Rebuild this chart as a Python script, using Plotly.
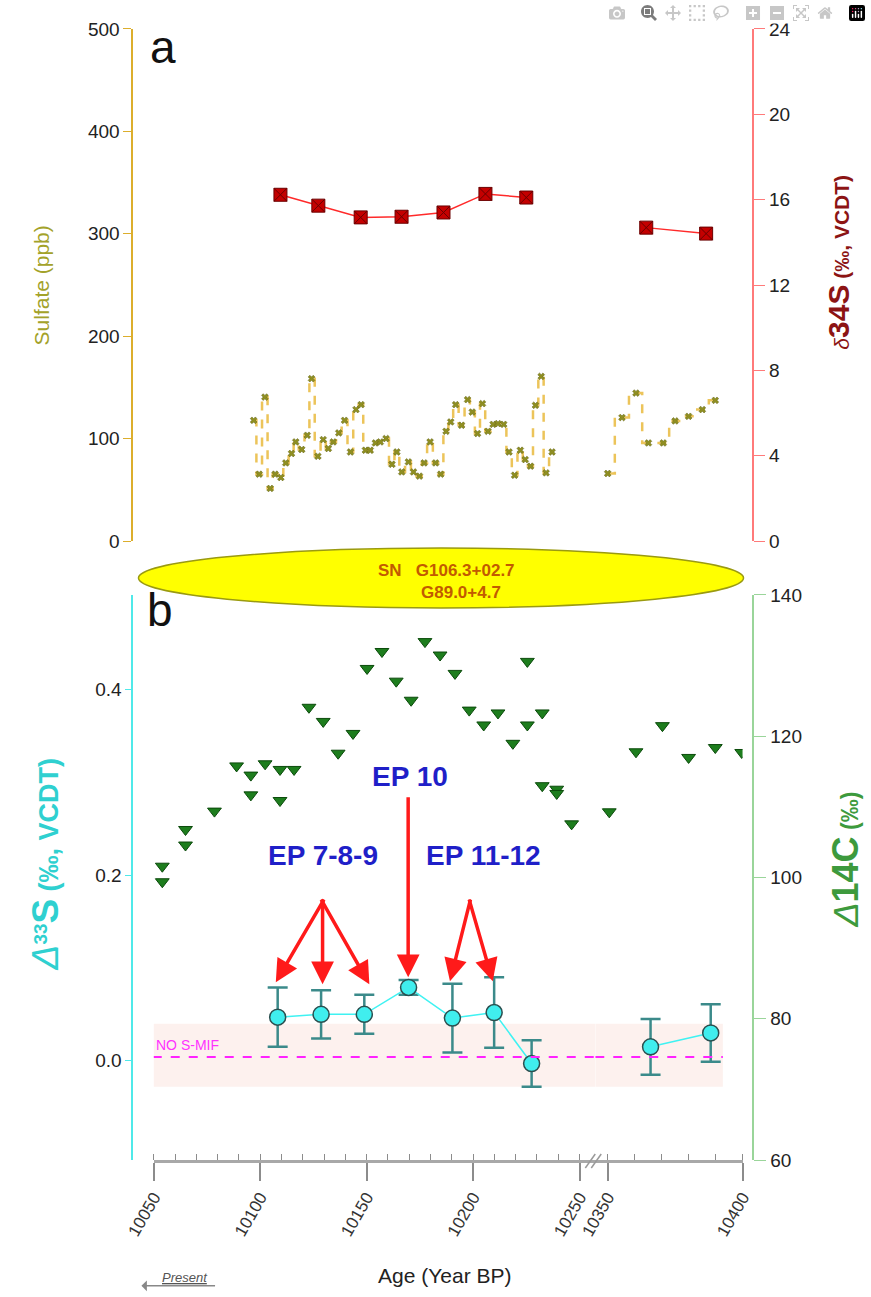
import plotly.graph_objects as go

W, H = 871, 1297
# The rendered picture is inset/scaled relative to figure pixels; positions below are
# given in picture pixels (as measured on the reference) and converted to figure pixels.
SX, OX = 0.9587, 27.0
SY, OY = 0.9855, 9.0
def cx(R): return (R - OX) / SX
def cy(R): return (R - OY) / SY
def px(R): return cx(R) / W
def py(R): return 1 - cy(R) / H

# ---------------- data ----------------
sulfate_age_1 = [10096.9, 10099.5, 10102.2, 10104.7, 10107.0, 10109.7, 10112.0, 10114.7, 10116.7, 10119.5,
                 10122.1, 10124.1, 10127.1, 10129.6, 10132.0, 10134.3, 10136.9, 10139.6, 10142.4, 10145.0,
                 10147.4, 10149.4, 10151.7, 10154.1, 10156.4, 10159.1, 10161.9, 10164.2, 10166.5, 10169.6,
                 10172.0, 10174.8, 10177.0, 10179.8, 10182.4, 10184.8, 10187.3, 10189.5, 10191.8, 10194.6,
                 10197.4, 10199.6, 10202.1, 10204.4, 10207.0, 10209.4, 10211.7, 10214.4, 10216.9, 10219.5,
                 10222.2, 10224.5, 10227.0, 10229.3, 10232.0, 10234.3, 10237.1]
sulfate_ppb_1 = [117.9, 65.3, 140.6, 51.4, 65.3, 62.1, 76.3, 85.5, 96.8, 89.4,
                 103.3, 158.6, 82.8, 99.1, 90.4, 96.8, 105.6, 117.9, 87.0, 128.4,
                 133.2, 88.7, 88.7, 95.8, 96.8, 100.1, 75.0, 87.0, 67.5, 77.3,
                 67.5, 63.4, 76.3, 96.8, 76.3, 65.3, 107.2, 116.3, 133.2, 113.1,
                 138.1, 126.0, 105.0, 134.2, 107.2, 114.0, 114.7, 114.0, 87.0, 64.3,
                 88.7, 79.6, 73.1, 132.6, 160.8, 66.6, 87.0]
sulfate_age_2 = [10350.0, 10355.3, 10360.5, 10365.1, 10370.6, 10375.0, 10380.0, 10385.1, 10389.9]
sulfate_ppb_2 = [66.0, 120.6, 144.5, 95.8, 95.8, 117.3, 121.8, 128.4, 137.4]

d34s_age_1 = [10109.5, 10127.3, 10147.2, 10166.4, 10186.1, 10205.8, 10225.0]
d34s_val_1 = [16.23, 15.72, 15.17, 15.20, 15.40, 16.27, 16.10]
d34s_age_2 = [10364.3, 10386.5]
d34s_val_2 = [14.69, 14.41]

d33s_age_1 = [10108.2, 10128.6, 10148.9, 10169.7, 10190.3, 10209.9, 10227.5]
d33s_val_1 = [0.047, 0.050, 0.050, 0.079, 0.046, 0.052, -0.003]
d33s_err_1 = [0.032, 0.026, 0.021, 0.008, 0.037, 0.038, 0.025]
d33s_age_2 = [10365.9, 10388.2]
d33s_val_2 = [0.015, 0.030]
d33s_err_2 = [0.030, 0.031]

d14c_age_1 = [10054.0, 10054.0, 10064.9, 10064.9, 10078.5, 10088.9, 10095.6, 10095.6, 10102.3, 10109.3,
              10109.3, 10115.9, 10122.9, 10129.6, 10136.6, 10143.6, 10150.2, 10157.2, 10163.9, 10170.9,
              10177.4, 10184.5, 10191.5, 10198.2, 10205.0, 10211.7, 10218.7, 10225.5, 10225.5, 10232.5,
              10232.5, 10239.3, 10239.3, 10246.3]
d14c_val_1 = [101.6, 99.4, 106.8, 104.6, 109.4, 115.8, 114.5, 111.7, 116.1, 115.3,
              110.9, 115.3, 124.1, 122.1, 117.6, 120.4, 129.6, 132.0, 127.8, 125.1,
              133.4, 131.5, 128.9, 123.7, 121.6, 123.3, 119.0, 130.6, 121.6, 123.3,
              113.0, 112.5, 111.9, 107.6]
d14c_age_2 = [10350.6, 10360.5, 10370.3, 10380.0, 10389.9, 10399.7]
d14c_val_2 = [109.3, 117.8, 121.5, 117.0, 118.4, 117.7]

seg1_ticks = [10050, 10100, 10150, 10200, 10250]
seg2_ticks = [10350, 10400]
seg1_range = [10050, 10257.4]
seg2_range = [10345.4, 10400]
no_smif_level = 0.004
no_smif_band = [-0.028, 0.040]
band_x_end = 10392.7

# ---------------- figure ----------------
fig = go.Figure()

GOLD_LINE = "#ecc45a"
SULF_MARK = "#8f8f22"

for ages, vals, xa in [(sulfate_age_1, sulfate_ppb_1, "x"), (sulfate_age_2, sulfate_ppb_2, "x2")]:
    fig.add_trace(go.Scatter(x=ages, y=vals, xaxis=xa, yaxis="y3", mode="lines+markers",
                             line=dict(color=GOLD_LINE, width=2.5, dash="dash", shape="hvh"),
                             marker=dict(symbol="x", size=6, color=SULF_MARK,
                                         line=dict(color="#5e5e10", width=0.5)),
                             showlegend=False))

for ages, vals, xa in [(d34s_age_1, d34s_val_1, "x"), (d34s_age_2, d34s_val_2, "x2")]:
    fig.add_trace(go.Scatter(x=ages, y=vals, xaxis=xa, yaxis="y4", mode="lines+markers",
                             line=dict(color="#ff2a2a", width=1.5),
                             marker=dict(symbol="square-x", size=13, color="#c40000",
                                         line=dict(color="#6a0000", width=1)),
                             showlegend=False))

fig.add_shape(type="rect", xref="x", yref="y", x0=10049.5, x1=seg1_range[1],
              y0=no_smif_band[0], y1=no_smif_band[1], fillcolor="#fdf1ee", line=dict(width=0), layer="below")
fig.add_shape(type="rect", xref="x2", yref="y", x0=seg2_range[0], x1=band_x_end,
              y0=no_smif_band[0], y1=no_smif_band[1], fillcolor="#fdf1ee", line=dict(width=0), layer="below")
fig.add_shape(type="line", xref="x", yref="y", x0=10049.5, x1=seg1_range[1],
              y0=no_smif_level, y1=no_smif_level, line=dict(color="#ff22ff", width=2, dash="dash"))
fig.add_shape(type="line", xref="x2", yref="y", x0=seg2_range[0], x1=band_x_end,
              y0=no_smif_level, y1=no_smif_level, line=dict(color="#ff22ff", width=2, dash="dash"))

for ages, vals, xa in [(d14c_age_1, d14c_val_1, "x"), (d14c_age_2, d14c_val_2, "x2")]:
    fig.add_trace(go.Scatter(x=ages, y=vals, xaxis=xa, yaxis="y2", mode="markers",
                             marker=dict(symbol="triangle-down", size=12, color="#1d7d1d",
                                         line=dict(color="#0b4a0b", width=1)),
                             showlegend=False))

for ages, vals, errs, xa in [(d33s_age_1, d33s_val_1, d33s_err_1, "x"),
                             (d33s_age_2, d33s_val_2, d33s_err_2, "x2")]:
    fig.add_trace(go.Scatter(x=ages, y=vals, xaxis=xa, yaxis="y", mode="lines+markers",
                             line=dict(color="#3ff2f2", width=1.5),
                             error_y=dict(type="data", array=errs, color="#3b8a8a", thickness=2.5, width=10),
                             marker=dict(symbol="circle", size=16, color="#40eeee",
                                         line=dict(color="#2b4f4f", width=1.5)),
                             showlegend=False))

FAM = "Liberation Sans, Arial"
TICKFONT = dict(family=FAM, size=19, color="#222222")
XTICKFONT = dict(family=FAM, size=17, color="#333333")

xcommon = dict(showline=True, linecolor="#a8a8a8", linewidth=2.5, ticks="outside", ticklen=18,
               tickwidth=1.5, tickcolor="#8c8c8c", tickangle=-60, tickfont=XTICKFONT,
               showgrid=False, zeroline=False, anchor="y", tickmode="array",
               minor=dict(ticks="inside", ticklen=6, tickwidth=1.2, tickcolor="#8c8c8c",
                          tickmode="linear", tick0=10050, dtick=10, showgrid=False))

domain_b = [py(1161), py(595)]
domain_a = [py(541), py(28)]
LEFT_AX = px(131)
RIGHT_AX = px(755)

fig.update_layout(
    width=W, height=H, margin=dict(l=0, r=0, t=0, b=0),
    paper_bgcolor="white", plot_bgcolor="rgba(0,0,0,0)",
    showlegend=False,
    xaxis=dict(domain=[px(152.4), px(596)], range=seg1_range, tickvals=seg1_ticks,
               ticktext=[str(v) for v in seg1_ticks], **xcommon),
    xaxis2=dict(domain=[px(596), px(744)], range=seg2_range, tickvals=seg2_ticks,
                ticktext=[str(v) for v in seg2_ticks], **xcommon),
    yaxis=dict(domain=domain_b, range=[-0.107, 0.502], anchor="free", position=LEFT_AX,
               showline=True, linecolor="#4fe9e9", linewidth=2, ticks="outside", ticklen=6,
               tickcolor="#4fe9e9", tickvals=[0.0, 0.2, 0.4], ticktext=["0.0", "0.2", "0.4"],
               tickfont=TICKFONT, showgrid=False, zeroline=False),
    yaxis2=dict(domain=domain_b, range=[60, 140], anchor="free", position=RIGHT_AX, side="right",
                overlaying="y", showline=True, linecolor="#9ad59a", linewidth=2, ticks="outside",
                ticklen=12, tickcolor="#9ad59a", tickvals=[60, 80, 100, 120, 140],
                tickfont=TICKFONT, showgrid=False, zeroline=False),
    yaxis3=dict(domain=domain_a, range=[0, 500], anchor="free", position=LEFT_AX,
                showline=True, linecolor="#dcae2c", linewidth=2, ticks="outside", ticklen=8,
                tickcolor="#dcae2c", tickvals=[0, 100, 200, 300, 400, 500],
                tickfont=TICKFONT, showgrid=False, zeroline=False),
    yaxis4=dict(domain=domain_a, range=[0, 24], anchor="free", position=RIGHT_AX, side="right",
                overlaying="y3", showline=True, linecolor="#ff7a7a", linewidth=1.5, ticks="outside",
                ticklen=11, tickcolor="#ff7a7a", tickvals=[0, 4, 8, 12, 16, 20, 24],
                tickfont=TICKFONT, showgrid=False, zeroline=False),
)

fig.add_shape(type="circle", xref="paper", yref="paper", x0=px(137), x1=px(745), y0=py(608), y1=py(548),
              fillcolor="#ffff00", line=dict(color="#9a9a10", width=1.5))

for dx in (0, 6):
    fig.add_shape(type="line", xref="paper", yref="paper", x0=px(586 + dx), y0=py(1169),
                  x1=px(596 + dx), y1=py(1155), line=dict(color="#9a9a9a", width=1.5))

ann = []
def txt(x, y, s, size, color, **kw):
    d = dict(x=px(x), y=py(y), xref="paper", yref="paper", text=s, showarrow=False,
             xanchor="center", yanchor="middle",
             font=dict(family=FAM, size=size, color=color))
    d.update(kw)
    ann.append(d)

txt(162, 46, "a", 46, "#111111")
txt(159, 610, "b", 46, "#111111")
txt(447, 570, "<b>SN   G106.3+02.7</b>", 17, "#c25a00")
txt(461, 593, "<b>G89.0+4.7</b>", 17, "#c25a00")

txt(40, 285, "Sulfate (ppb)", 21, "#a3a22a", textangle=-90)
txt(840, 262, "<i>δ</i><b><span style='font-size:30px'>34S</span> (‰, VCDT)</b>", 21, "#8c1414", textangle=-90)
txt(44, 864, "<i><span style='font-size:37px'>Δ</span></i><b><sup>33</sup><span style='font-size:37px'>S</span> (‰, VCDT)</b>",
    27, "#2fd0d0", textangle=-90)
txt(847, 860, "<i><span style='font-size:36px'>Δ</span></i><b><span style='font-size:36px'>14C</span> (‰)</b>",
    23, "#3d9a3d", textangle=-90)

txt(445, 1277, "Age (Year BP)", 21, "#222222")
txt(184, 1279, "<i><u>Present</u></i>", 13, "#555555")
ann.append(dict(x=px(140), y=py(1287), xref="paper", yref="paper", text="", showarrow=True,
                ax=cx(212) - cx(140), ay=0, arrowhead=1, arrowsize=1.2, arrowwidth=1.5, arrowcolor="#888888"))

ann.append(dict(x=10050, y=0.017, xref="x", yref="y", text="NO S-MIF", showarrow=False, xanchor="left",
                font=dict(family=FAM, size=14, color="#ff33ff")))

BLUE = "#1f1fc8"
txt(322, 856, "<b>EP 7-8-9</b>", 28, BLUE)
txt(410, 777, "<b>EP 10</b>", 28, BLUE)
txt(484, 856, "<b>EP 11-12</b>", 28, BLUE)

def arrow(sx, sy, tx, ty):
    ann.append(dict(x=px(tx), y=py(ty), xref="paper", yref="paper", text="", showarrow=True,
                    ax=cx(sx) - cx(tx), ay=cy(sy) - cy(ty), arrowhead=2, arrowsize=1.3, arrowwidth=3.5,
                    arrowcolor="#ff1a1a"))

arrow(322, 900, 275, 983)
arrow(322, 900, 322, 985)
arrow(322, 900, 369, 985)
arrow(408, 799, 408, 978)
arrow(470, 900, 450, 982)
arrow(470, 900, 493, 982)

fig.update_layout(annotations=ann)

fig.write_html("out.html", post_script="document.body.style.margin='0px';")
